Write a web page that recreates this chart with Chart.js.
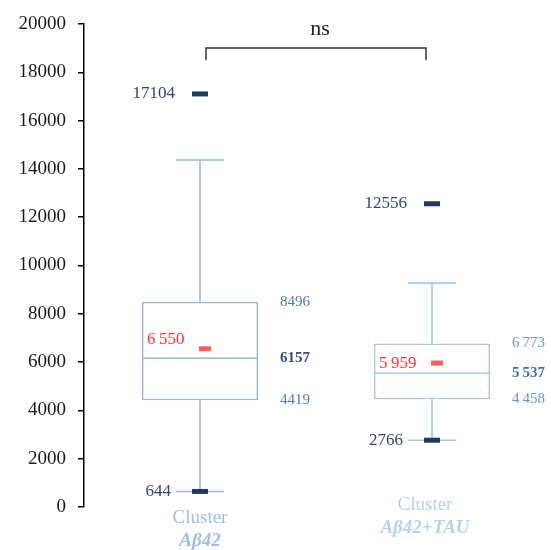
<!DOCTYPE html>
<html>
<head>
<meta charset="utf-8">
<script src="https://cdn.jsdelivr.net/npm/chart.js@4.4.1/dist/chart.umd.min.js"></script>
<style>
  html, body { margin: 0; padding: 0; background: #fff; }
  .wrap { width: 551px; height: 550px; position: relative; }
</style>
</head>
<body>
<div class="wrap"><canvas id="boxChart"></canvas></div>
<script>
// box plot values
const categories = ['Cluster Aβ42', 'Cluster Aβ42+TAU'];
const catLine1 = ['Cluster', 'Cluster'];
const catLine2 = ['Aβ42', 'Aβ42+TAU'];
const whiskerLow = [644, 2766];
const q1 = [4419, 4458];
const median = [6157, 5537];
const q3 = [8496, 6773];
const whiskerHigh = [14370, 9270];
const means = [6550, 5959];
const minValues = [644, 2766];
const maxValues = [17104, 12556];
const groupedDigits = [false, true];
const yTicks = [0, 2000, 4000, 6000, 8000, 10000, 12000, 14000, 16000, 18000, 20000];
const sigLabel = 'ns';

const SERIF = '"Liberation Serif", "DejaVu Serif", serif';
const boxColors = ['#9cb6e4', '#a9c8e8'];
const catColors = ['#a4bce6', '#b6d2f0'];
const sideColors = ['#5576b4', '#6a96cc'];
const sideBold = ['#2f4f8c', '#3a72b8'];
const navy = '#1f3864';
const navyText = '#34466e';
const red = '#ff5c5c';
const redText = '#ff3535';

function fmt(v, grouped) {
  const s = String(v);
  if (!grouped) return s;
  return s.replace(/\B(?=(\d{3})+(?!\d))/g, '\u2009');
}

const boxPlugin = {
  id: 'boxExtras',
  afterDatasetsDraw(chart) {
    const ctx = chart.ctx;
    const x = chart.scales.x;
    const y = chart.scales.y;
    ctx.save();
    categories.forEach((c, i) => {
      const cx = x.getPixelForValue(i);
      // whiskers
      ctx.strokeStyle = boxColors[i];
      ctx.lineWidth = 1.6;
      ctx.beginPath();
      ctx.moveTo(cx, y.getPixelForValue(q3[i]));
      ctx.lineTo(cx, y.getPixelForValue(whiskerHigh[i]));
      ctx.moveTo(cx - 24, y.getPixelForValue(whiskerHigh[i]));
      ctx.lineTo(cx + 24, y.getPixelForValue(whiskerHigh[i]));
      ctx.moveTo(cx, y.getPixelForValue(q1[i]));
      ctx.lineTo(cx, y.getPixelForValue(whiskerLow[i]));
      ctx.moveTo(cx - 24, y.getPixelForValue(whiskerLow[i]));
      ctx.lineTo(cx + 24, y.getPixelForValue(whiskerLow[i]));
      // median
      const bar = chart.getDatasetMeta(0).data[i];
      ctx.moveTo(bar.x - bar.width / 2, y.getPixelForValue(median[i]));
      ctx.lineTo(bar.x + bar.width / 2, y.getPixelForValue(median[i]));
      ctx.stroke();

      // min / max markers
      ctx.fillStyle = navy;
      ctx.fillRect(cx - 8, y.getPixelForValue(maxValues[i]) - 2.5, 16, 5);
      ctx.fillRect(cx - 8, y.getPixelForValue(minValues[i]) - 2.5, 16, 5);

      // mean marker
      ctx.fillStyle = red;
      ctx.fillRect(cx - 1, y.getPixelForValue(means[i]) - 2.5, 12, 5);

      ctx.textBaseline = 'middle';
      // max / min labels
      ctx.fillStyle = navyText;
      ctx.font = '17px ' + SERIF;
      ctx.textAlign = 'right';
      ctx.fillText(fmt(maxValues[i], false), cx - 25, y.getPixelForValue(maxValues[i]));
      ctx.fillText(fmt(minValues[i], false), cx - 29, y.getPixelForValue(minValues[i]));

      // mean label
      ctx.fillStyle = redText;
      ctx.textAlign = 'left';
      const meanShift = i === 0 ? -9 : 0;
      ctx.fillText(fmt(means[i], true), cx - 53, y.getPixelForValue(means[i]) + meanShift);

      // quartile labels
      ctx.font = '15px ' + SERIF;
      ctx.fillStyle = sideColors[i];
      ctx.fillText(fmt(q3[i], groupedDigits[i]), cx + 80, y.getPixelForValue(q3[i]));
      ctx.fillText(fmt(q1[i], groupedDigits[i]), cx + 80, y.getPixelForValue(q1[i]));
      ctx.font = 'bold 15px ' + SERIF;
      ctx.fillStyle = sideBold[i];
      ctx.fillText(fmt(median[i], groupedDigits[i]), cx + 80, y.getPixelForValue(median[i]));

      // category labels
      ctx.textAlign = 'center';
      ctx.fillStyle = catColors[i];
      const ly = i === 0 ? 518 : 505;
      const lx = i === 0 ? cx : cx - 7;
      ctx.font = '19px ' + SERIF;
      ctx.fillText(catLine1[i], lx, ly);
      ctx.font = 'italic bold 19px ' + SERIF;
      ctx.fillText(catLine2[i], lx, ly + 23);
    });

    // significance bracket
    const x0 = x.getPixelForValue(0) + 6;
    const x1 = x.getPixelForValue(1) - 6;
    ctx.strokeStyle = '#333';
    ctx.lineWidth = 1.5;
    ctx.beginPath();
    ctx.moveTo(x0, 60);
    ctx.lineTo(x0, 48);
    ctx.lineTo(x1, 48);
    ctx.lineTo(x1, 60);
    ctx.stroke();
    ctx.fillStyle = '#222';
    ctx.font = '22px ' + SERIF;
    ctx.textAlign = 'center';
    ctx.textBaseline = 'middle';
    ctx.fillText(sigLabel, (x0 + x1) / 2 + 4, 29);
    ctx.restore();
  }
};

new Chart(document.getElementById('boxChart'), {
  type: 'bar',
  data: {
    labels: categories,
    datasets: [{
      data: q1.map((v, i) => [v, q3[i]]),
      backgroundColor: '#ffffff',
      borderColor: boxColors,
      borderWidth: 1.6,
      borderSkipped: false,
      barPercentage: 0.5,
      categoryPercentage: 1
    }]
  },
  options: {
    responsive: true,
    maintainAspectRatio: false,
    animation: false,
    layout: { padding: { top: 24, bottom: 43, left: 0, right: 3 } },
    plugins: {
      legend: { display: false },
      tooltip: { enabled: false }
    },
    scales: {
      x: {
        display: false,
        offset: true
      },
      y: {
        min: 0,
        max: 20000,
        afterBuildTicks: (scale) => { scale.ticks = yTicks.map(v => ({ value: v })); },
        afterFit: (scale) => { scale.width = 84; },
        ticks: {
          color: '#1a1a1a',
          padding: 12,
          font: { family: SERIF, size: 19 },
          callback: (v) => String(v)
        },
        grid: { drawOnChartArea: false, drawTicks: true, tickLength: 6, color: '#000', lineWidth: 1.5 },
        border: { display: true, color: '#000', width: 1.5 }
      }
    }
  },
  plugins: [boxPlugin]
});
</script>
</body>
</html>
